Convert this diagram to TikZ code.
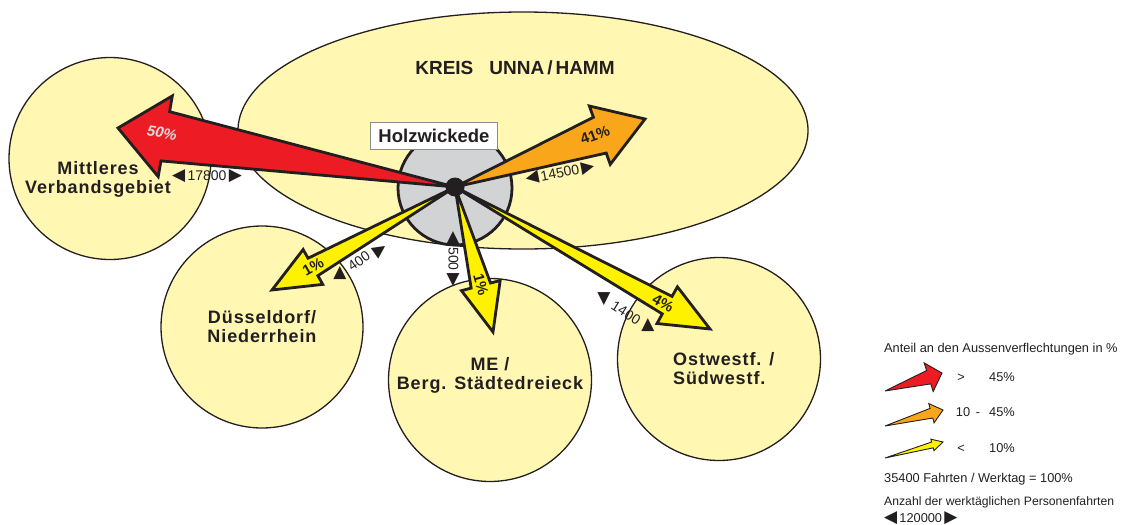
\documentclass[tikz,border=0pt]{standalone}
\usepackage{fontspec}
\setmainfont{Liberation Sans}
\newfontfamily\symf{DejaVu Sans}
\newfontfamily\regfont[LetterSpace=5]{Liberation Sans}
\usetikzlibrary{calc,shapes.geometric}
\definecolor{regfill}{RGB}{255,247,178}
\definecolor{ared}{RGB}{237,28,36}
\definecolor{aorange}{RGB}{249,166,27}
\definecolor{ayellow}{RGB}{255,242,0}
\definecolor{hubgray}{RGB}{209,211,212}
\definecolor{ink}{RGB}{35,31,32}
\newcommand\tri[1]{{\symf\fontsize{17}{17}\selectfont #1}}
% #1 tail, #2 tip, #3 head length, #4 head half width, #5 shaft half width, #6 style
\newcommand\flowarrow[6]{%
  \coordinate (#2-b) at ($(#2)!#3!(#1)$);
  \filldraw[#6] (#1) -- ($(#2-b)!#5!90:(#2)$) -- ($(#2-b)!#4!90:(#2)$) -- (#2)
     -- ($(#2-b)!#4!-90:(#2)$) -- ($(#2-b)!#5!-90:(#2)$) -- cycle;}
\tikzset{
  region/.style={circle, draw=ink, line width=1.3pt, fill=regfill, minimum size=#1, inner sep=0pt},
  reglabel/.style={text=ink, align=center, font=\regfont\bfseries\fontsize{18}{19}\selectfont, inner sep=0pt},
  bigarrow/.style={draw=ink, line width=2.8pt, line join=miter, miter limit=4, fill=#1},
  legarrow/.style={draw=ink, line width=0.9pt, line join=miter, miter limit=4, fill=#1},
  pct/.style={text=ink, font=\bfseries\fontsize{15}{17}\selectfont, inner sep=0pt},
  count/.style={text=ink, font=\fontsize{14}{16}\selectfont, inner sep=0pt},
  legtext/.style={text=ink, font=\fontsize{12.8}{15}\selectfont, inner sep=0pt, anchor=base},
}
\begin{document}
\begin{tikzpicture}[x=1pt,y=-1pt]
\useasboundingbox (0,0) rectangle (1125,525);
% regions
\node[ellipse, draw=ink, line width=1.3pt, fill=regfill, minimum width=570pt, minimum height=237pt, inner sep=0pt] (kreis) at (523,130.5) {};
\node[region=202pt] (mv) at (110,158.5) {};
\node[region=202pt] (dn) at (262,327) {};
\node[region=203pt] (me) at (490,380) {};
\node[region=203pt] (ow) at (719,359) {};
\node[circle, draw=ink, line width=2.8pt, fill=hubgray, minimum size=114pt, inner sep=0pt] (holz) at (455,188) {};
% region labels
\node[text=ink, font=\bfseries\fontsize{19}{21}\selectfont, inner sep=0pt] (kreisl) at (515,68) {KREIS\hspace{16pt}UNNA\hspace{3pt}/\hspace{3pt}HAMM};
\node[reglabel] (mvl) at (98,179.5) {Mittleres\\Verbandsgebiet};
\node[reglabel] (dnl) at (262,326.5) {Düsseldorf/\\Niederrhein};
\node[reglabel] (mel) at (490,375) {ME /\\Berg. Städtedreieck};
\node[reglabel, align=left, anchor=west] (owl) at (673,369) {Ostwestf. /\\Südwestf.};
% arrows
\coordinate (hc) at (455,187);
\coordinate (tR) at (118,128);
\coordinate (tO) at (645,119);
\coordinate (tD) at (272,290);
\coordinate (tM) at (493,332);
\coordinate (tS) at (710,329);
\flowarrow{hc}{tR}{48pt}{41pt}{25pt}{bigarrow=ared}
\flowarrow{hc}{tO}{48pt}{31pt}{19pt}{bigarrow=aorange}
\flowarrow{hc}{tD}{47pt}{20pt}{10pt}{bigarrow=ayellow}
\flowarrow{hc}{tM}{48pt}{20pt}{10pt}{bigarrow=ayellow}
\flowarrow{hc}{tS}{49pt}{21pt}{10pt}{bigarrow=ayellow}
\node[circle, fill=ink, minimum size=19pt, inner sep=0pt] (hub) at (hc) {};
% Holzwickede label
\node[draw=black!45, line width=0.6pt, fill=white, minimum width=127pt, minimum height=27pt, inner sep=0pt, text=ink, font=\bfseries\fontsize{18.5}{20}\selectfont] (holzl) at (434,135.5) {Holzwickede};
% percentages
\node[pct, text=black!13, font=\bfseries\itshape\fontsize{15}{17}\selectfont, rotate=-10] (pR) at (162,133) {50\%};
\node[pct, rotate=20] (pO) at (595,135) {41\%};
\node[pct, rotate=29] (pD) at (313,267) {1\%};
\node[pct, rotate=-75] (pM) at (481,285) {1\%};
\node[pct, rotate=-29] (pS) at (663,303) {4\%};
% counts
\node[count] (c1) at (207,176) {\tri{◀}\,17800\,\tri{▶}};
\node[count, rotate=11] (c2) at (560,173) {\tri{◀}\,14500\,\tri{▶}};
\node[count, rotate=-90] (c3) at (453,259) {\tri{◀}\,500\,\tri{▶}};
\node[count, rotate=35] (c4) at (359,261) {400};
\node[count] (c4a) at (340,273) {\tri{▲}};
\node[count, rotate=35] (c4b) at (380,250) {\tri{▶}};
\node[count, rotate=-32] (c5) at (626,313) {1400};
\node[count] (c5a) at (604,299) {\tri{▼}};
\node[count] (c5b) at (648,325) {\tri{▲}};
% legend
\node[legtext, anchor=base west] (lt) at (884,352.5) {Anteil an den Aussenverflechtungen in \%};
\coordinate (lr0) at (885,391); \coordinate (lr1) at (942,373);
\coordinate (lo0) at (885,426); \coordinate (lo1) at (943,410);
\coordinate (ly0) at (885,458); \coordinate (ly1) at (943,442);
\flowarrow{lr0}{lr1}{14pt}{15pt}{7pt}{legarrow=ared}
\flowarrow{lo0}{lo1}{12pt}{10pt}{5pt}{legarrow=aorange}
\flowarrow{ly0}{ly1}{11pt}{6pt}{3pt}{legarrow=ayellow}
\node[legtext] (g1) at (961,381) {>};
\node[legtext] (g1v) at (1002,381) {45\%};
\node[legtext] (g2a) at (963,416) {10};
\node[legtext] (g2b) at (978,416) {-};
\node[legtext] (g2v) at (1002,416) {45\%};
\node[legtext] (g3) at (961,452) {<};
\node[legtext] (g3v) at (1002,452) {10\%};
\node[legtext, anchor=base west] (l4) at (884,482) {35400 Fahrten / Werktag = 100\%};
\node[legtext, anchor=base west, font=\fontsize{12.2}{14}\selectfont] (l5) at (884,505) {Anzahl der werktäglichen Personenfahrten};
\node[legtext, anchor=west] (l6) at (884,518) {\tri{◀}\,120000\,\tri{▶}};
\end{tikzpicture}
\end{document}
